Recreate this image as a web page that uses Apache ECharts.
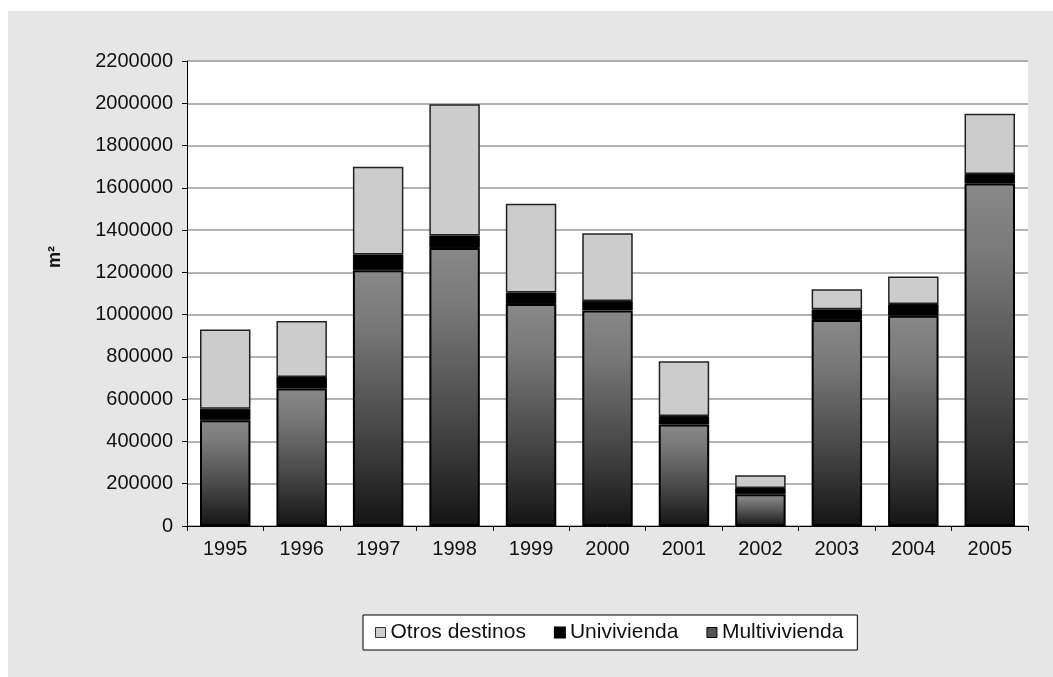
<!DOCTYPE html>
<html>
<head>
<meta charset="utf-8">
<script src="https://cdn.jsdelivr.net/npm/echarts@6/dist/echarts.min.js"></script>
<style>
    body{ margin:0; background:#fff; }
    #frame{ position:absolute; left:8px; top:11px; width:1045px; height:666px; background:#e6e6e6; }
    #chart{ width:100%; height:100%; }
</style>
</head>
<body>
<div id="frame"><div id="chart"></div></div>
<script type="text/javascript">
    // años
    const years = ['1995','1996','1997','1998','1999','2000','2001','2002','2003','2004','2005'];
    // m2 por destino
    const multivivienda = [500000, 650000, 1210000, 1315000, 1050000, 1020000, 480000, 150000, 975000, 995000, 1620000];
    const univivienda   = [55000, 55000, 75000, 60000, 55000, 45000, 40000, 30000, 50000, 55000, 45000];
    const otros         = [375000, 265000, 415000, 620000, 420000, 320000, 260000, 60000, 95000, 130000, 285000];
    const yTicks = [0, 2200000, 200000]; // min, max, intervalo

    const font = 'Liberation Sans, Arial, Helvetica, sans-serif';

    let myChart = echarts.init(document.getElementById('chart'));

    const gradMulti = new echarts.graphic.LinearGradient(0, 0, 0, 1, [
        {offset: 0, color: '#888888'},
        {offset: 0.2, color: '#7a7a7a'},
        {offset: 0.65, color: '#444444'},
        {offset: 1, color: '#141414'}
    ]);

    let option = {
        animation: false,
        textStyle: {fontFamily: font},
        grid: {
            left: 179, right: 25, top: 50, bottom: 151,
            show: true, backgroundColor: '#ffffff', borderWidth: 0
        },
        // etiqueta del eje y (m²), algo por encima del centro como en el original
        graphic: [{
            type: 'text',
            left: 38, top: 235,
            rotation: Math.PI / 2,
            style: {text: 'm²', font: 'bold 18px ' + font, fill: '#111'}
        }],
        legend: {
            left: 355, top: 604,
            backgroundColor: '#ffffff',
            borderColor: '#000', borderWidth: 1,
            padding: [7, 14, 7, 12],
            itemWidth: 10, itemHeight: 10, itemGap: 28,
            textStyle: {fontSize: 21, color: '#111', fontFamily: font},
            data: [
                {name: 'Otros destinos', icon: 'rect', itemStyle: {color: '#cccccc', borderColor: '#333', borderWidth: 1}},
                {name: 'Univivienda', icon: 'rect', itemStyle: {color: '#000'}},
                {name: 'Multivivienda', icon: 'rect', itemStyle: {color: '#555', borderColor: '#000', borderWidth: 1}}
            ]
        },
        xAxis: {
            type: 'category',
            data: years,
            axisLine: {lineStyle: {color: '#000', width: 1}},
            axisTick: {show: true, length: 5, lineStyle: {color: '#000'}},
            axisLabel: {fontSize: 20, color: '#111', margin: 13}
        },
        yAxis: {
            type: 'value',
            min: yTicks[0], max: yTicks[1], interval: yTicks[2],
            axisLine: {show: true, lineStyle: {color: '#000', width: 1}},
            axisTick: {show: true, length: 5, lineStyle: {color: '#000'}},
            axisLabel: {fontSize: 20, color: '#111', margin: 14, formatter: function (v) { return String(v); }},
            splitLine: {lineStyle: {color: '#999', width: 1.5}}
        },
        series: [
            {
                name: 'Multivivienda', type: 'bar', stack: 'total',
                barCategoryGap: '34%',
                itemStyle: {color: gradMulti, borderColor: '#000', borderWidth: 2},
                data: multivivienda
            },
            {
                name: 'Univivienda', type: 'bar', stack: 'total',
                itemStyle: {color: '#000', borderColor: '#000', borderWidth: 1},
                data: univivienda
            },
            {
                name: 'Otros destinos', type: 'bar', stack: 'total',
                itemStyle: {color: '#cccccc', borderColor: '#222', borderWidth: 1.5},
                data: otros
            }
        ]
    };
    myChart.setOption(option);
</script>
</body>
</html>
